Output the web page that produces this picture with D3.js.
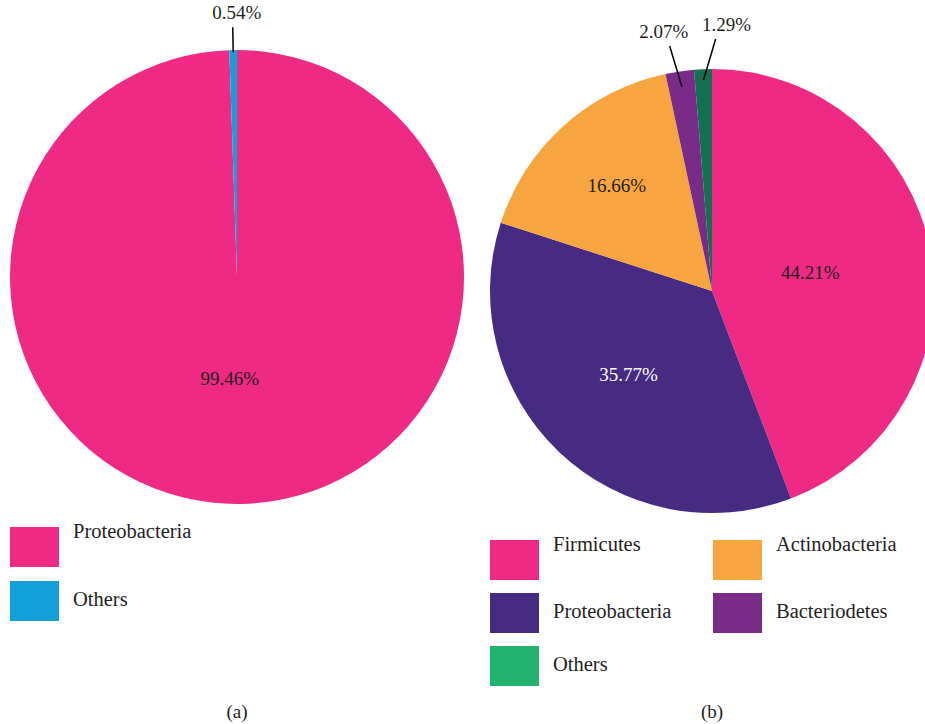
<!DOCTYPE html>
<html>
<head>
<meta charset="utf-8">
<script src="https://cdn.jsdelivr.net/npm/d3@7"></script>
<style>
  body { margin: 0; background: #fff; }
  svg text { font-family: "Liberation Serif", "DejaVu Serif", serif; fill: #231f20; }
</style>
</head>
<body>
<div id="chart"></div>
<script>
//////////////////////////// data /////////////////////////////////////////

const categoriesA = ["Proteobacteria", "Others"];
const valuesA = [99.46, 0.54];
const colorsA = ["#ee2a84", "#13a0d8"];

const categoriesB = ["Firmicutes", "Proteobacteria", "Actinobacteria", "Bacteriodetes", "Others"];
const valuesB = [44.21, 35.77, 16.66, 2.07, 1.29];
const colorsB = ["#ee2a84", "#472b82", "#f7a541", "#782c87", "#137152"];
const legendColorsB = ["#ee2a84", "#472b82", "#f7a541", "#782c87", "#22b36e"];

//////////////////////////// svg ///////////////////////////////////////////

const width = 925, height = 724;
const svg = d3.select("#chart").append("svg")
  .attr("width", width).attr("height", height);

const pie = d3.pie().sort(null).value(d => d.value);

// label placement: radius fraction, and for outside labels the leader line
const drawPie = (opts) => {
  const data = opts.cats.map((c, i) => ({ cat: c, value: opts.values[i], i }));
  const arcs = pie(data);
  const g = svg.append("g").attr("transform", `translate(${opts.cx},${opts.cy})`);
  const arc = d3.arc().innerRadius(0).outerRadius(opts.r);

  g.selectAll("path").data(arcs).enter().append("path")
    .attr("d", arc)
    .attr("fill", d => opts.colors[d.index]);

  const polar = (a, r) => [Math.sin(a) * r, -Math.cos(a) * r];

  arcs.forEach(d => {
    const mid = (d.startAngle + d.endAngle) / 2;
    const lab = opts.labels[d.index];
    const txt = d3.format(".2f")(d.data.value) + "%";
    if (lab.outside) {
      const p1 = polar(mid, opts.r * lab.r1);
      const p2 = polar(mid + lab.tilt, opts.r * lab.r2);
      g.append("line")
        .attr("x1", p1[0]).attr("y1", p1[1])
        .attr("x2", p2[0]).attr("y2", p2[1])
        .attr("stroke", "#000").attr("stroke-width", 1.5);
      g.append("text")
        .attr("x", p2[0] + lab.dx).attr("y", p2[1] - 8)
        .attr("text-anchor", "middle")
        .style("font-size", "19px")
        .text(txt);
    } else {
      const p = polar(mid, opts.r * lab.r);
      g.append("text")
        .attr("x", p[0] + (lab.dx || 0)).attr("y", p[1] + 6)
        .attr("text-anchor", "middle")
        .style("font-size", "19px")
        .style("fill", lab.fill || "#231f20")
        .text(txt);
    }
  });
};

drawPie({
  cats: categoriesA, values: valuesA, colors: colorsA,
  cx: 237, cy: 277, r: 227,
  labels: [
    { r: 0.45, dx: -9 },
    { outside: true, r1: 0.99, r2: 1.1, tilt: 0, dx: 4 }
  ]
});

drawPie({
  cats: categoriesB, values: valuesB, colors: colorsB,
  cx: 712, cy: 291, r: 222,
  labels: [
    { r: 0.45 },
    { r: 0.52, dx: -4, fill: "#ffffff" },
    { r: 0.64 },
    { outside: true, r1: 0.93, r2: 1.12, tilt: -0.025, dx: -6 },
    { outside: true, r1: 0.95, r2: 1.135, tilt: 0.055, dx: 11 }
  ]
});

//////////////////////////// legends ///////////////////////////////////////

const legend = (cats, colors, x0, y0, colW, rowH, nCols) => {
  const g = svg.append("g").attr("transform", `translate(${x0},${y0})`);
  const items = g.selectAll("g").data(cats).enter().append("g")
    .attr("transform", (d, i) => `translate(${(i % nCols) * colW},${Math.floor(i / nCols) * rowH})`);
  items.append("rect").attr("width", 49).attr("height", 40)
    .attr("fill", (d, i) => colors[i]);
  // first row text sits high, later rows lower (as in the source)
  items.append("text").attr("x", 63)
    .attr("y", (d, i) => Math.floor(i / nCols) === 0 ? 11 : 25)
    .style("font-size", "20.5px")
    .text(d => d);
};

legend(categoriesA, colorsA, 10, 527, 0, 54, 1);
// right legend in two columns, filled row-wise
const orderB = [0, 2, 1, 3, 4];
legend(orderB.map(i => categoriesB[i]), orderB.map(i => legendColorsB[i]), 490, 540, 223, 53, 2);

//////////////////////////// captions //////////////////////////////////////

svg.append("text").attr("x", 237).attr("y", 718).attr("text-anchor", "middle")
  .style("font-size", "19px").text("(a)");
svg.append("text").attr("x", 712).attr("y", 718).attr("text-anchor", "middle")
  .style("font-size", "19px").text("(b)");
</script>
</body>
</html>
